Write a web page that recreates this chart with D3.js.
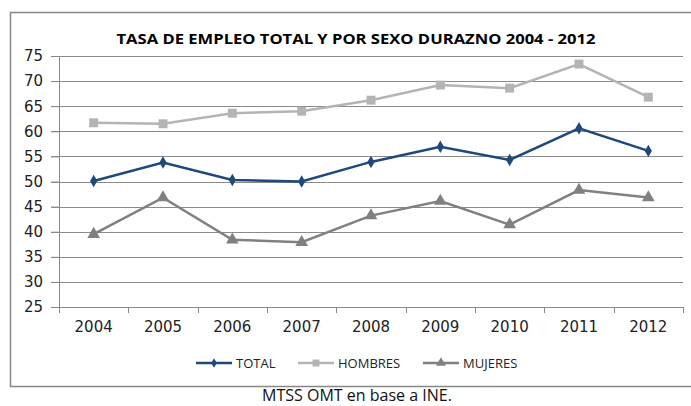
<!DOCTYPE html>
<html>
<head>
<meta charset="utf-8">
<script src="https://cdn.jsdelivr.net/npm/d3@7"></script>
<style>
  body { margin: 0; background: #fff; }
  svg { display: block; }
</style>
</head>
<body>
<div id="chart"></div>
<script>
const years = ["2004", "2005", "2006", "2007", "2008", "2009", "2010", "2011", "2012"];
const total = [50.1, 53.8, 50.3, 50.0, 53.9, 56.9, 54.3, 60.6, 56.1];
const hombres = [61.7, 61.5, 63.6, 64.0, 66.2, 69.2, 68.6, 73.4, 66.8];
const mujeres = [39.5, 46.8, 38.4, 37.9, 43.2, 46.1, 41.4, 48.3, 46.8];
const yTicks = [25, 30, 35, 40, 45, 50, 55, 60, 65, 70, 75];

const series = [
    { name: "TOTAL", values: total, color: "#1f497d", symbol: d3.symbolDiamond, size: 45, width: 2.5 },
    { name: "HOMBRES", values: hombres, color: "#b4b4b4", symbol: d3.symbolSquare, size: 80, width: 2.5 },
    { name: "MUJERES", values: mujeres, color: "#808080", symbol: d3.symbolTriangle, size: 70, width: 2.5 }
];

const W = 691, H = 406;
const margin = { top: 56, right: 8, bottom: 99, left: 59 };
const width = W - margin.left - margin.right;
const height = H - margin.top - margin.bottom;

const svg = d3.select("#chart").append("svg")
    .attr("width", W)
    .attr("height", H);

// outer frame
svg.append("rect")
    .attr("x", 10.5).attr("y", 12.5)
    .attr("width", 690).attr("height", 374)
    .attr("fill", "none")
    .attr("stroke", "#878787")
    .attr("stroke-width", 1.5);

svg.append("text")
    .attr("x", 356).attr("y", 44)
    .attr("text-anchor", "middle")
    .style("font-family", "'Open Sans', sans-serif")
    .style("font-weight", "bold")
    .style("font-size", "15px")
    .attr("textLength", 479)
    .attr("lengthAdjust", "spacingAndGlyphs")
    .text("TASA DE EMPLEO TOTAL Y POR SEXO DURAZNO 2004 - 2012");

const g = svg.append("g")
    .attr("transform", `translate(${margin.left},${margin.top})`);

const x = d3.scaleBand().domain(years).range([0, width]);
const y = d3.scaleLinear().domain([25, 75]).range([height, 0]);

// grid
g.append("g")
    .selectAll("line")
    .data(yTicks.slice(1))
    .enter().append("line")
    .attr("x1", -8).attr("x2", width)
    .attr("y1", d => Math.round(y(d)) + 0.5)
    .attr("y2", d => Math.round(y(d)) + 0.5)
    .attr("stroke", "#8a8a8a")
    .attr("stroke-width", 1);

// y axis
const yAxis = g.append("g")
    .call(d3.axisLeft(y).tickValues(yTicks).tickSize(8).tickPadding(8));
yAxis.select(".domain").attr("stroke", "#8a8a8a");
yAxis.selectAll(".tick line").attr("stroke", "#8a8a8a");
yAxis.selectAll("text")
    .style("font-family", "'DejaVu Sans', sans-serif")
    .style("font-size", "15px")
    .attr("fill", "#222");

// x axis with ticks on band boundaries
const xAxis = g.append("g")
    .attr("transform", `translate(0,${height})`)
    .call(d3.axisBottom(x).tickSize(0).tickPadding(14));
xAxis.select(".domain").attr("stroke", "#8a8a8a");
xAxis.selectAll("text")
    .style("font-family", "'DejaVu Sans', sans-serif")
    .style("font-size", "15px")
    .attr("fill", "#222");
g.append("g")
    .selectAll("line")
    .data(d3.range(years.length + 1))
    .enter().append("line")
    .attr("x1", i => Math.round(i * x.step()) + 0.5)
    .attr("x2", i => Math.round(i * x.step()) + 0.5)
    .attr("y1", height).attr("y2", height + 6)
    .attr("stroke", "#8a8a8a");

// lines
const line = d3.line()
    .x((d, i) => x(years[i]) + x.bandwidth() / 2)
    .y(d => y(d));

series.forEach(s => {
    g.append("path")
        .datum(s.values)
        .attr("fill", "none")
        .attr("stroke", s.color)
        .attr("stroke-width", s.width)
        .attr("d", line);

    g.selectAll(null)
        .data(s.values)
        .enter().append("path")
        .attr("d", d3.symbol().type(s.symbol).size(s.size))
        .attr("transform", (d, i) => `translate(${x(years[i]) + x.bandwidth() / 2},${y(d)})`)
        .attr("fill", s.color);
});

// legend
const legendX = [196, 298, 423];
const legend = svg.append("g").attr("transform", "translate(0,363)");
series.forEach((s, i) => {
    const lg = legend.append("g").attr("transform", `translate(${legendX[i]},0)`);
    lg.append("line")
        .attr("x1", 0).attr("x2", 36)
        .attr("stroke", s.color)
        .attr("stroke-width", 2.5);
    lg.append("path")
        .attr("d", d3.symbol().type(s.symbol).size(s.size * 0.6))
        .attr("transform", "translate(18,0)")
        .attr("fill", s.color);
    lg.append("text")
        .attr("x", 40).attr("y", 4.5)
        .style("font-family", "'Open Sans', sans-serif")
        .style("font-size", "13px")
        .attr("fill", "#222")
        .text(s.name);
});

svg.append("text")
    .attr("x", 357).attr("y", 401)
    .attr("text-anchor", "middle")
    .style("font-family", "'Open Sans', sans-serif")
    .style("font-size", "16px")
    .attr("fill", "#111")
    .text("MTSS OMT en base a INE.");
</script>
</body>
</html>
